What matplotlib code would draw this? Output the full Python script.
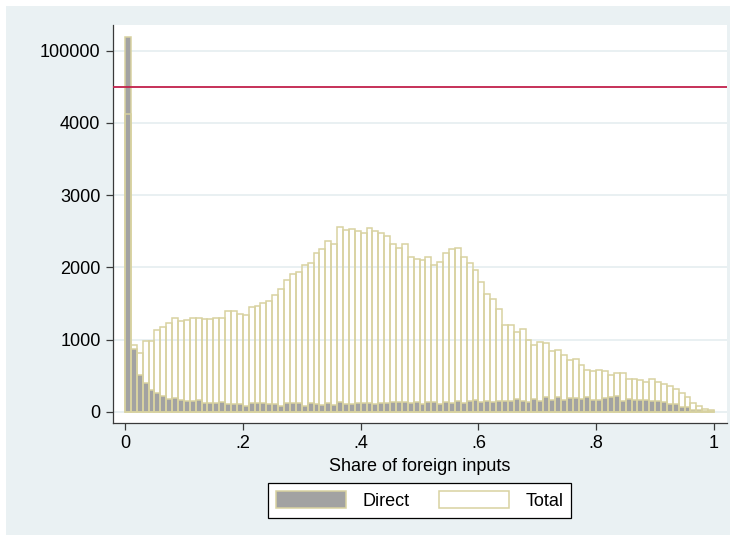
import numpy as np
import matplotlib
matplotlib.use("Agg")
import matplotlib.pyplot as plt
from matplotlib.patches import Patch, Rectangle

plt.rcParams['font.family'] = ['Liberation Sans', 'DejaVu Sans']

# Histogram counts, 100 bins of width 0.01 over [0, 1]
bin_edges = np.linspace(0.0, 1.0, 101)

direct_counts = [
    137000, 870, 512, 394, 303, 257, 222, 173, 190, 165,
    153, 148, 158, 120, 120, 122, 134, 104, 108, 113,
    85, 122, 116, 116, 102, 102, 74, 125, 125, 116,
    74, 120, 106, 93, 125, 93, 130, 111, 102, 120,
    120, 120, 111, 120, 120, 130, 130, 130, 125, 130,
    102, 130, 130, 106, 130, 120, 148, 120, 144, 162,
    130, 144, 139, 144, 144, 144, 171, 153, 130, 181,
    153, 199, 157, 199, 162, 190, 192, 176, 199, 162,
    162, 194, 208, 213, 153, 176, 162, 162, 162, 148,
    144, 140, 111, 104, 62, 62, 30, 30, 14, 14,
]

total_counts = [
    4120, 926, 819, 981, 986, 1125, 1176, 1227, 1296, 1255,
    1269, 1296, 1301, 1282, 1282, 1296, 1301, 1393, 1393, 1352,
    1343, 1454, 1468, 1500, 1540, 1616, 1704, 1819, 1912, 1940,
    2028, 2065, 2199, 2254, 2361, 2329, 2560, 2523, 2532, 2500,
    2472, 2546, 2504, 2481, 2430, 2319, 2268, 2319, 2141, 2116,
    2106, 2139, 2037, 2069, 2204, 2250, 2273, 2148, 2065, 1958,
    1801, 1630, 1565, 1421, 1199, 1199, 1097, 1148, 1000, 921,
    963, 949, 838, 850, 787, 713, 727, 648, 583, 569,
    574, 560, 514, 532, 532, 458, 458, 435, 407, 458,
    407, 384, 352, 310, 264, 208, 125, 83, 32, 23,
]

y_tick_values = [0, 1000, 2000, 3000, 4000, 100000]
y_tick_labels = ["0", "1000", "2000", "3000", "4000", "100000"]
x_tick_values = [0, 0.2, 0.4, 0.6, 0.8, 1.0]
x_tick_labels = ["0", ".2", ".4", ".6", ".8", "1"]

# Broken y scale: linear up to the break, compressed above it
BREAK = 4500.0
UPPER_REF = 100000.0
UPPER_POS = 5000.0


def to_axis(v):
    v = np.asarray(v, dtype=float)
    k = (UPPER_POS - BREAK) / (UPPER_REF - BREAK)
    return np.where(v <= BREAK, v, BREAK + (v - BREAK) * k)


BG = "#eaf1f3"
GRID = "#e3ecef"
EDGE = "#d8d2a0"
GRAY = "#a2a2a2"
RED = "#c2204b"

W, H = 735, 541
fig = plt.figure(figsize=(W / 100, H / 100), dpi=100)
fig.patch.set_facecolor("white")
fig.patches.append(Rectangle((6 / W, 6 / H), (730 - 6) / W, (535 - 6) / H,
                             transform=fig.transFigure, facecolor=BG,
                             edgecolor="none", zorder=-10))

left, right, top, bottom = 113, 727, 24.5, 423
ax = fig.add_axes([left / W, 1 - bottom / H, (right - left) / W, (bottom - top) / H])
ax.set_facecolor("white")

lefts = bin_edges[:-1]
width = bin_edges[1] - bin_edges[0]
ax.bar(lefts, to_axis(direct_counts), width=width, align="edge",
       facecolor=GRAY, edgecolor=EDGE, linewidth=1.1, zorder=2)
ax.bar(lefts, to_axis(total_counts), width=width, align="edge",
       fill=False, edgecolor=EDGE, linewidth=1.1, zorder=3)

ax.axhline(BREAK, color=RED, linewidth=1.3, zorder=4)

ax.set_xlim(-0.0204, 1.022)
ax.set_ylim(-156.5, 5363)

ax.set_yticks(to_axis(y_tick_values))
ax.set_yticklabels(y_tick_labels)
ax.set_xticks(x_tick_values)
ax.set_xticklabels(x_tick_labels)

ax.yaxis.grid(True, color=GRID, linewidth=1.1, zorder=0)
ax.set_axisbelow(True)

for s in ["top", "right"]:
    ax.spines[s].set_visible(False)
for s in ["left", "bottom"]:
    ax.spines[s].set_color("#3a3a3a")
    ax.spines[s].set_linewidth(0.9)

ax.tick_params(axis="both", direction="out", length=5, width=0.9,
               color="#3a3a3a", labelsize=13, pad=4)
ax.set_xlabel("Share of foreign inputs", fontsize=13, labelpad=4)

handles = [Patch(facecolor=GRAY, edgecolor=EDGE, linewidth=1.1, label="Direct"),
           Patch(facecolor="white", edgecolor=EDGE, linewidth=1.1, label="Total")]
leg = fig.legend(handles=handles, loc="center", ncol=2,
                 bbox_to_anchor=(419.5 / W, 1 - 500.5 / H),
                 fontsize=13, frameon=True, fancybox=False,
                 edgecolor="black", facecolor="white", framealpha=1,
                 handlelength=3.9, handleheight=1.05, handletextpad=0.9,
                 columnspacing=1.6, borderpad=0.45, borderaxespad=0)
leg.get_frame().set_linewidth(0.9)

fig.savefig("out.png", dpi=100, facecolor="white")
